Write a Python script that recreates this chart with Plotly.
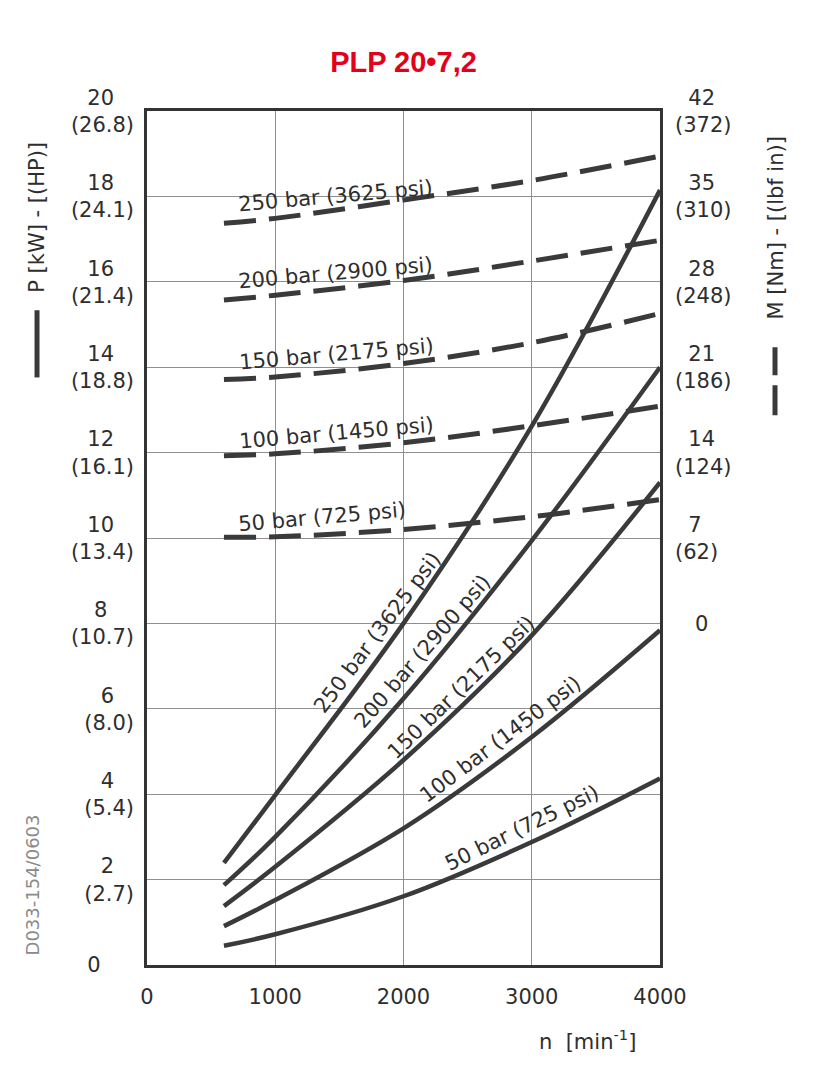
import plotly.graph_objects as go

# ---------------- data ----------------
chart_title = "PLP 20•7,2"
speed = [600, 1000, 2000, 3000, 4000]          # n [min-1]

pressure_labels = ["250 bar (3625 psi)", "200 bar (2900 psi)", "150 bar (2175 psi)",
                   "100 bar (1450 psi)", "50 bar (725 psi)"]

# power curves P [kW] (solid)
power_250 = [2.39, 3.98, 8.00, 12.62, 18.15]
power_200 = [1.87, 3.00, 6.24, 9.94, 14.00]
power_150 = [1.38, 2.30, 4.80, 7.72, 11.30]
power_100 = [0.91, 1.52, 3.20, 5.34, 7.84]
power_50 = [0.45, 0.72, 1.61, 2.88, 4.37]

# torque curves M [Nm] (dashed)
torque_250 = [32.8, 33.2, 34.7, 36.3, 38.3]
torque_200 = [26.5, 26.9, 28.1, 29.7, 31.4]
torque_150 = [20.0, 20.2, 21.3, 23.0, 25.4]
torque_100 = [13.75, 13.9, 14.8, 16.2, 17.8]
torque_50 = [7.07, 7.1, 7.7, 8.75, 10.15]

speed_ticks = [0, 1000, 2000, 3000, 4000]
kw_ticks = [0, 2, 4, 6, 8, 10, 12, 14, 16, 18, 20]
hp_labels = ["", "2.7", "5.4", "8.0", "10.7", "13.4", "16.1", "18.8", "21.4", "24.1", "26.8"]
nm_ticks = [0, 7, 14, 21, 28, 35, 42]
lbfin_labels = ["", "62", "124", "186", "248", "310", "372"]

power_series = [power_250, power_200, power_150, power_100, power_50]
torque_series = [torque_250, torque_200, torque_150, torque_100, torque_50]

# ---------------- styling ----------------
FONT = "DejaVu Sans"
TXT = "#2e2e2e"
CURVE = "#3a3a3a"
GRID = "#8f8f8f"
FRAME = "#333333"
TICK_SIZE = 21
LABEL_SIZE = 21

# the page body adds an 8 px offset; the figure is sized to fit the 832x1080 window
PAGE_OFF = 8
FIG_W, FIG_H = 832 - PAGE_OFF, 1080 - PAGE_OFF
M_L, M_T = 147 - PAGE_OFF, 111 - PAGE_OFF
PLOT_W, PLOT_H = 513, 854

W_EM = {"(": 0.390, ")": 0.390, ".": 0.318, " ": 0.318}
NBSP = "\u00a0"


def text_em(s):
    return sum(W_EM.get(c, 0.636) for c in s)


def stacked(top, bottom, align):
    if not bottom:
        return top
    low = "(" + bottom + ")"
    pad = NBSP * max(0, round((text_em(low) - text_em(top)) / 2 / 0.318))
    first = top + pad if align == "right" else pad + top
    return first + "<br>" + low


left_text = [stacked(str(v), h, "right") for v, h in zip(kw_ticks, hp_labels)]
left_text[0] = "0" + NBSP * 5
right_text = [stacked(str(v), h, "left") for v, h in zip(nm_ticks, lbfin_labels)]
right_text[0] = NBSP * 3 + "0"

fig = go.Figure()

for series in power_series:
    fig.add_trace(go.Scatter(
        x=speed, y=series, mode="lines", yaxis="y",
        line=dict(color=CURVE, width=4.5, shape="spline", smoothing=1.0),
        hoverinfo="skip", showlegend=False))

for series in torque_series:
    fig.add_trace(go.Scatter(
        x=speed, y=series, mode="lines", yaxis="y2",
        line=dict(color=CURVE, width=5, shape="spline", smoothing=1.0, dash="32px,13px"),
        hoverinfo="skip", showlegend=False))

annotations = []
# labels on power curves (solid)
solid_pos = [(1801, 7.79, -53), (2152, 7.35, -49), (2456, 6.50, -44), (2760, 5.29, -37), (2924, 3.20, -26)]
for lab, (x, y, ang) in zip(pressure_labels, solid_pos):
    annotations.append(dict(x=x, y=y, xref="x", yref="y", text=lab, showarrow=False,
                            textangle=ang, xanchor="center", yanchor="middle",
                            font=dict(family=FONT, size=LABEL_SIZE, color=TXT)))
# labels on torque curves (dashed)
dash_pos = [(1466, 35.0), (1466, 28.7), (1481, 22.1), (1481, 15.6), (1365, 8.75)]
for lab, (x, y) in zip(pressure_labels, dash_pos):
    annotations.append(dict(x=x, y=y, xref="x", yref="y2", text=lab, showarrow=False,
                            textangle=-5, xanchor="center", yanchor="middle",
                            font=dict(family=FONT, size=LABEL_SIZE, color=TXT)))

# axis titles
annotations += [
    dict(x=-0.2144, y=0.875, xref="paper", yref="paper", text="P [kW] - [(HP)]",
         textangle=-90, showarrow=False, xanchor="center", yanchor="middle",
         font=dict(family=FONT, size=TICK_SIZE, color=TXT)),
    dict(x=1.2242, y=0.8624, xref="paper", yref="paper", text="M [Nm] - [(lbf in)]",
         textangle=-90, showarrow=False, xanchor="center", yanchor="middle",
         font=dict(family=FONT, size=TICK_SIZE, color=TXT)),
    dict(x=0.8596, y=-0.0878, xref="paper", yref="paper",
         text="n  [min<sup>-1</sup>]", showarrow=False, xanchor="center", yanchor="middle",
         font=dict(family=FONT, size=TICK_SIZE, color=TXT)),
    dict(x=-0.2242, y=0.0943, xref="paper", yref="paper", text="D033-154/0603",
         textangle=-90, showarrow=False, xanchor="center", yanchor="middle",
         font=dict(family=FONT, size=18, color="#8a8a8a")),
]

shapes = [
    dict(type="line", xref="paper", yref="paper", x0=-0.2144, x1=-0.2144, y0=0.688, y1=0.7667,
         line=dict(color=CURVE, width=5)),
    dict(type="line", xref="paper", yref="paper", x0=1.2242, x1=1.2242, y0=0.6438, y1=0.7234,
         line=dict(color=CURVE, width=5, dash="30px,10px")),
]

fig.update_layout(
    template="none",
    width=FIG_W, height=FIG_H,
    margin=dict(l=M_L, r=FIG_W - M_L - PLOT_W, t=M_T, b=FIG_H - M_T - PLOT_H, autoexpand=False),
    paper_bgcolor="white", plot_bgcolor="white",
    title=dict(text="<b>" + chart_title + "</b>", x=0.5, xref="paper", xanchor="center",
               y=1 - (62 - PAGE_OFF) / FIG_H, yref="container", yanchor="middle",
               font=dict(family="Liberation Sans, Arial", size=29, color="#e2001a")),
    font=dict(family=FONT, size=TICK_SIZE, color=TXT),
    xaxis=dict(range=[0, 4000], tickvals=speed_ticks, ticktext=[str(v) for v in speed_ticks],
               showgrid=True, gridcolor=GRID, gridwidth=1.2, zeroline=False,
               showline=True, linecolor=FRAME, linewidth=2.5, mirror=True,
               ticks="", ticklabelstandoff=11, automargin=False,
               tickfont=dict(family=FONT, size=TICK_SIZE, color=TXT)),
    yaxis=dict(range=[0, 20], tickvals=kw_ticks, ticktext=left_text,
               showgrid=True, gridcolor=GRID, gridwidth=1.2, zeroline=False,
               showline=True, linecolor=FRAME, linewidth=2.5, mirror=True,
               ticks="", ticklabelstandoff=6, automargin=False,
               tickfont=dict(family=FONT, size=TICK_SIZE, color=TXT)),
    yaxis2=dict(range=[-28, 42], tickvals=nm_ticks, ticktext=right_text,
                overlaying="y", side="right", showgrid=False, zeroline=False,
                showline=False, ticks="", ticklabelstandoff=14, automargin=False,
                tickfont=dict(family=FONT, size=TICK_SIZE, color=TXT)),
    annotations=annotations,
    shapes=shapes,
    showlegend=False,
)

fig.write_html("out.html")
